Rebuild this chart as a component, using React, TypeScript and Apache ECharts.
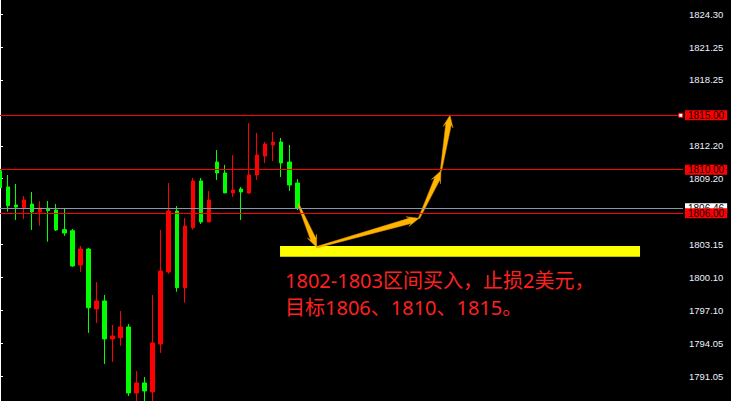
import React, { useEffect, useRef } from "react";
import * as echarts from "echarts";

// Candles: open, close, low, high (red = rising, green = falling)
const opens = [1809.91, 1808.42, 1806.76, 1806.51, 1806.85, 1806.15, 1806.46, 1806.30, 1804.50, 1804.40, 1801.25, 1802.72, 1797.21, 1797.95, 1794.46, 1794.58, 1795.56, 1789.50, 1790.42, 1789.59, 1794.00, 1800.61, 1806.21, 1799.17, 1804.68, 1808.97, 1805.20, 1810.71, 1809.70, 1807.87, 1808.23, 1807.87, 1809.52, 1811.26, 1812.27, 1812.55, 1810.71, 1808.78];
const closes = [1808.35, 1806.70, 1806.58, 1807.22, 1806.12, 1806.46, 1806.24, 1804.47, 1804.19, 1801.16, 1802.72, 1797.33, 1797.95, 1794.46, 1794.73, 1795.56, 1789.50, 1790.42, 1789.68, 1794.09, 1800.70, 1806.21, 1799.17, 1804.83, 1808.97, 1805.20, 1807.22, 1809.70, 1807.87, 1808.14, 1807.96, 1809.52, 1811.35, 1812.36, 1812.55, 1810.62, 1808.60, 1806.46];
const lows = [1806.03, 1806.15, 1805.39, 1805.48, 1804.47, 1804.86, 1803.39, 1804.38, 1803.92, 1801.10, 1800.61, 1795.01, 1795.93, 1792.16, 1792.35, 1793.82, 1789.22, 1788.50, 1788.50, 1788.50, 1793.18, 1800.43, 1798.80, 1797.79, 1804.50, 1805.02, 1805.20, 1809.06, 1807.87, 1807.50, 1805.39, 1807.77, 1809.06, 1810.62, 1810.80, 1809.33, 1808.05, 1806.30];
const highs = [1810.28, 1809.52, 1808.69, 1807.59, 1807.96, 1807.10, 1807.13, 1806.85, 1806.46, 1804.56, 1803.00, 1802.81, 1799.69, 1798.50, 1795.74, 1797.03, 1795.83, 1791.52, 1790.97, 1798.50, 1804.47, 1808.78, 1806.67, 1805.57, 1809.24, 1809.24, 1808.05, 1811.81, 1810.44, 1811.35, 1808.42, 1814.29, 1813.37, 1812.55, 1813.47, 1812.92, 1812.27, 1809.15];

const slotCount = 86; // bar slots across the visible chart width
const yMin = 1788.76;
const yMax = 1825.59;
const tickValues = [1791.05, 1794.05, 1797.1, 1800.1, 1803.15, 1809.2, 1812.2, 1818.25, 1821.25, 1824.3];

// Horizontal price levels
const redLevels = [1815.0, 1810.0, 1806.0];
const bidLevel = 1806.46;

// Buy zone
const zoneLow = 1802.0;
const zoneHigh = 1803.0;
const zoneStart = 34.85;
const zoneEnd = 79.65;

// Arrow path (slot index, price)
const arrowX = [37.12, 39.41, 52.15, 54.88, 56.0];
const arrowY = [1806.85, 1802.88, 1805.54, 1809.91, 1815.0];

const textLine1 = "1802-1803区间买入，止损2美元，";
const textLine2 = "目标1806、1810、1815。";

export default function App() {
  const ref = useRef<HTMLDivElement>(null);

  useEffect(() => {
    if (!ref.current) return;
    const chart = echarts.init(ref.current, undefined, { renderer: "svg" });

    const categories = Array.from({ length: slotCount }, (_, i) => String(i));
    const candleData = opens.map((o, i) => [o, closes[i], lows[i], highs[i]]);
    const arrowData = arrowX.slice(0, -1).map((x, i) => [x, arrowY[i], arrowX[i + 1], arrowY[i + 1]]);

    const priceLabel = (text: string, bg: string) => ({
      show: true,
      position: "end",
      distance: 2,
      formatter: text,
      backgroundColor: bg,
      color: "#000000",
      fontFamily: "Liberation Sans",
      fontSize: 10,
      lineHeight: 10,
      padding: [0, 3, 0, 3],
    });

    const redMark = (v: number) => ({
      yAxis: v,
      lineStyle: { color: "#ff0000", width: 1, type: "solid" },
      label: priceLabel(v.toFixed(2), "#ff0000"),
    });

    const option: any = {
      animation: false,
      backgroundColor: "#000000",
      grid: { left: 0, right: 48, top: 0, bottom: 0, containLabel: false, outerBoundsMode: "none" },
      xAxis: [
        { type: "category", data: categories, boundaryGap: false, show: false },
        { type: "value", min: 0, max: slotCount - 1, show: false },
      ],
      yAxis: {
        type: "value",
        position: "right",
        min: yMin,
        max: yMax,
        scale: true,
        splitLine: { show: false },
        axisLine: { show: true, lineStyle: { color: "#ffffff", width: 1 } },
        axisTick: { show: true, inside: false, length: 3, lineStyle: { color: "#ffffff" }, customValues: tickValues },
        axisLabel: {
          show: true,
          margin: 6,
          color: "#eef2ff",
          fontFamily: "Liberation Sans",
          fontSize: 9.5,
          lineHeight: 9,
          customValues: tickValues,
          formatter: (v: number) => v.toFixed(2),
        },
      },
      series: [
        {
          type: "candlestick",
          xAxisIndex: 0,
          data: candleData,
          barWidth: 4,
          clip: true,
          itemStyle: {
            color: "#ff0000",
            color0: "#00ff00",
            borderColor: "#ff0000",
            borderColor0: "#00ff00",
            borderWidth: 1,
          },
          markLine: {
            silent: true,
            symbol: "none",
            animation: false,
            data: [
              {
                yAxis: bidLevel,
                lineStyle: { color: "#8a96a8", width: 1, type: "solid" },
                label: priceLabel(bidLevel.toFixed(2), "#ffffff"),
              },
            ],
          },
        },
        {
          type: "custom",
          xAxisIndex: 1,
          z: 3,
          data: [[zoneStart, zoneLow, zoneEnd, zoneHigh]],
          encode: { x: [0, 2], y: [1, 3] },
          renderItem: (params: any, api: any) => {
            const a = api.coord([api.value(0), api.value(3)]);
            const b = api.coord([api.value(2), api.value(1)]);
            return {
              type: "rect",
              shape: { x: a[0], y: a[1], width: b[0] - a[0], height: b[1] - a[1] },
              style: { fill: "#ffff00" },
            };
          },
          markLine: {
            silent: true,
            symbol: "none",
            animation: false,
            data: redLevels.map(redMark),
          },
          markPoint: {
            silent: true,
            animation: false,
            data: [
              {
                coord: [84.72, redLevels[0]],
                symbol: "rect",
                symbolSize: 4,
                itemStyle: { color: "#ffffff", borderColor: "#ff0000", borderWidth: 1 },
                label: { show: false },
              },
            ],
          },
        },
        {
          type: "custom",
          xAxisIndex: 1,
          z: 4,
          data: arrowData,
          encode: { x: [0, 2], y: [1, 3] },
          renderItem: (params: any, api: any) => {
            const p = api.coord([api.value(0), api.value(1)]);
            const q = api.coord([api.value(2), api.value(3)]);
            const dx = q[0] - p[0];
            const dy = q[1] - p[1];
            const len = Math.hypot(dx, dy) || 1;
            const ux = dx / len;
            const uy = dy / len;
            const nx = -uy;
            const ny = ux;
            const headLen = 12;
            const headW = 5;
            const w0 = 0.7;
            const w1 = 2.8;
            const bx = q[0] - ux * headLen;
            const by = q[1] - uy * headLen;
            const nbx = q[0] - ux * (headLen - 3);
            const nby = q[1] - uy * (headLen - 3);
            const pts = [
              [p[0] + nx * w0, p[1] + ny * w0],
              [nbx + nx * w1, nby + ny * w1],
              [bx + nx * headW, by + ny * headW],
              [q[0], q[1]],
              [bx - nx * headW, by - ny * headW],
              [nbx - nx * w1, nby - ny * w1],
              [p[0] - nx * w0, p[1] - ny * w0],
            ];
            return {
              type: "polygon",
              shape: { points: pts },
              style: { fill: "#ffb400", stroke: "#e89a00", lineWidth: 0.5 },
            };
          },
        },
      ],
      graphic: [
        {
          type: "text",
          x: 285,
          y: 280,
          z: 10,
          style: {
            text: textLine1,
            fill: "#ff2020",
            fontSize: 20,
            fontFamily: '"Noto Sans", "Noto Sans CJK SC", sans-serif',
            verticalAlign: "middle",
            align: "left",
          },
        },
        {
          type: "text",
          x: 285,
          y: 307.5,
          z: 10,
          style: {
            text: textLine2,
            fill: "#ff2020",
            fontSize: 20,
            fontFamily: '"Noto Sans", "Noto Sans CJK SC", sans-serif',
            verticalAlign: "middle",
            align: "left",
          },
        },
      ],
    };

    chart.setOption(option);
    return () => chart.dispose();
  }, []);

  return (
    <div
      ref={ref}
      style={{ position: "fixed", left: 0, top: 0, width: 731, height: 401, background: "#000" }}
    />
  );
}
